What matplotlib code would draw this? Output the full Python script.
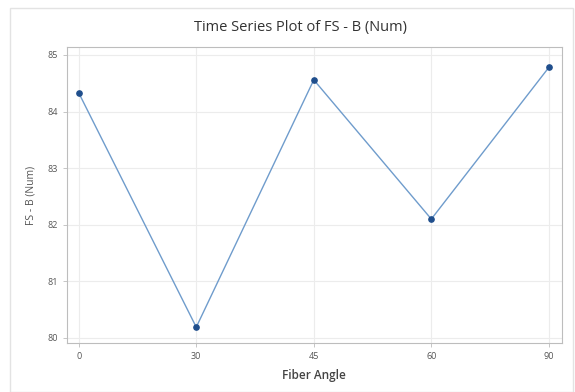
import numpy as np
import matplotlib.pyplot as plt
from matplotlib.patches import Rectangle

# Data
angles = ["0", "30", "45", "60", "90"]
fs_b = [84.33, 80.19, 84.56, 82.10, 84.78]

plt.rcParams['font.family'] = ['Open Sans', 'DejaVu Sans']

fig = plt.figure(figsize=(5.75, 3.92), dpi=100)
ax = fig.add_axes([0.1165, 0.125, 0.8605, 0.755])

# outer frame like the Minitab graph window
fig.patches.append(Rectangle((0.017, 0.0), 0.98, 0.98, transform=fig.transFigure,
                             fill=False, edgecolor='#e3e3e3', linewidth=1))

x = np.arange(len(angles))
ax.plot(x, fs_b, color='#6f9ccc', linewidth=1, zorder=2)
ax.plot(x, fs_b, 'o', color='#1f4e8c', markersize=3.8, zorder=3)

ax.set_xticks(x)
ax.set_xticklabels(angles)
ax.set_xlim(-0.1, 4.11)
ax.set_ylim(79.91, 85.14)
ax.set_yticks([80, 81, 82, 83, 84, 85])

ax.grid(True, color='#ececec', linewidth=0.8)
ax.set_axisbelow(True)
for s in ax.spines.values():
    s.set_color('#bdbdbd')
    s.set_linewidth(0.8)
ax.tick_params(axis='both', labelsize=6.5, colors='#bdbdbd', labelcolor='#555555',
               length=3, width=0.6)

ax.set_xlabel("Fiber Angle", fontsize=8.5, color='#444444', labelpad=6,
              fontweight='semibold')
ax.set_ylabel("FS - B (Num)", fontsize=7.5, color='#555555', labelpad=8)
fig.suptitle("Time Series Plot of FS - B (Num)", x=0.522, y=0.948,
             fontsize=10.5, color='#333333')

fig.savefig("out.png", dpi=100)
